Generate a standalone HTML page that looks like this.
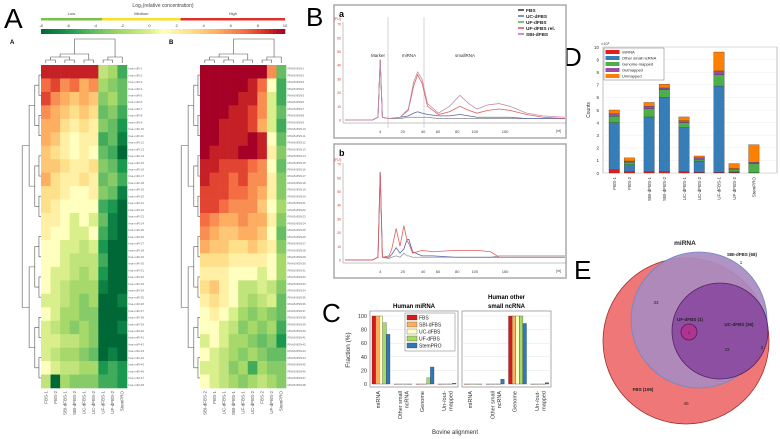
<!DOCTYPE html>
<html><head><meta charset="utf-8"><style>
body{margin:0;background:#fff}
svg{display:block;font-family:"Liberation Sans",sans-serif}
</style></head><body>
<svg id="fig" width="780" height="439" viewBox="0 0 780 439" xmlns="http://www.w3.org/2000/svg">
<rect width="780" height="439" fill="#fff"/>
<text x="4" y="28" font-size="28">A</text>
<text x="306" y="26" font-size="26">B</text>
<text x="322" y="322" font-size="26">C</text>
<text x="563" y="66" font-size="26">D</text>
<text x="574" y="279" font-size="26">E</text>
</svg>
<script>
// ---------- DATA ----------
const heatColsA=["FBS-1","FBS-2","SBI-dFBS-1","SBI-dFBS-2","UC-dFBS-1","UC-dFBS-2","UF-dFBS-1","UF-dFBS-2","StemPRO"];
const heatColsB=["SBI-dFBS-2","FBS-1","UC-dFBS-1","SBI-dFBS-1","UF-dFBS-1","UC-dFBS-2","FBS-2","UF-dFBS-2","StemPRO"];
const heatA=[
[9,9,9,9,9,9,-1,-2,-5],[7,8,6,7,5,6,-2,-3,-4],[8,6,5,4,5,4,-3,-2,-4],[6,5,4,3,4,3,-4,-3,-5],
[5,5,3,2,3,2,-3,-4,-6],[5,4,2,1,2,2,-5,-4,-7],[4,3,2,1,2,1,-4,-5,-8],[4,4,3,2,2,3,-3,-4,-6],
[5,3,2,2,3,2,-4,-3,-5],[3,3,2,1,1,2,-3,-4,-7],[3,2,1,1,1,1,-5,-6,-8],[2,2,1,0,1,0,-4,-7,-8],
[2,1,1,0,0,1,-5,-7,-8],[1,1,0,0,-1,0,-6,-8,-8],[1,1,0,-1,-1,-1,-5,-8,-8],[1,0,0,-1,-2,-1,-6,-8,-8],
[1,0,-1,-2,-2,-2,-7,-8,-8],[0,0,-1,-2,-3,-2,-8,-8,-7],[1,0,-2,-2,-3,-3,-8,-8,-8],[0,-1,-2,-3,-2,-3,-8,-8,-7],
[0,0,-1,-1,-2,-3,-8,-8,-8],[0,-1,-2,-2,-3,-4,-8,-7,-8],[1,0,-1,-1,-2,-2,-6,-5,-6],[-1,-8,-2,-3,-3,-3,-5,-5,-6]];
const heatB=[
[10,10,10,10,10,10,10,6,-4],[10,10,10,10,10,9,7,1,-5],[10,10,10,10,9,9,6,0,-5],[10,10,10,9,9,8,6,0,-4],
[10,10,9,9,9,8,5,0,-5],[10,10,9,9,9,10,9,1,-4],[10,9,9,9,10,10,9,2,-3],[9,9,8,8,8,7,6,1,-4],
[9,8,8,7,8,6,6,2,-3],[8,8,8,7,7,6,5,2,-3],[8,8,7,6,6,6,4,1,-2],[7,6,5,5,6,5,5,2,-3],
[6,5,4,4,5,5,4,1,-4],[5,4,4,3,3,4,3,2,-3],[3,3,3,2,2,2,2,1,-2],[2,2,2,1,1,1,0,1,-2],
[3,4,2,1,-1,-1,0,-1,-3],[2,3,2,1,-1,-2,-1,0,-4],[1,2,1,0,-2,-3,-2,-3,-4],[1,1,0,-1,-3,-2,-3,-2,-5],
[0,1,0,-2,-2,-3,-4,-3,-6],[1,0,-1,-2,-3,-2,-3,-4,-4],[0,0,-1,-3,-2,-5,-2,-3,-3],[1,0,-1,-2,-3,-2,-1,-2,-3]];
const colorTicks=[-8,-6,-4,-2,0,2,4,6,8,10];

// Bioanalyzer traces (time s, FU)
const timeA=[20,25,26,26.4,26.8,28,30,31.5,32.5,33.2,34,35,37,39,40.9,42.5,44,46,48,50,53,56,60];
const traceA_SBI=[0,0,2,44,2,1,2,8,28,35,30,12,5,10,18,12,8,11,12,10,5,3,2];
const traceA_UFrel=[0,0,2,44,2,1,2,7,25,33,27,10,4,6,10,7,5,7,8,7,4,2,1];
const traceA_UC=[0,0,2,44,2,1,2,3,5,6,5,4,3,3,4,3,2,2,2,2,1,1,1];
const traceA_FBS=[0,0,2,44,2,1,1,2,2,2,2,2,1,1,1,1,1,1,1,1,1,1,1];
const timeB=[20,25,26,26.4,26.8,28,28.5,29.3,30,30.7,31.3,31.6,32.3,34,36,40,44,46.5,48,52,60];
const traceB_UFrel=[0,0,2,64,2,3,8,23,10,25,14,12,5,7,6,7,7,6,2,2,2];
const traceB_UC=[0,0,2,64,2,2,4,9,5,8,15,15,6,3,3,2,2,2,2,2,2];
const traceB_FBS=[0,0,2,64,2,1,2,3,2,5,3,3,2,2,2,2,2,2,3,3,3];
const ladderLabels=["4","20","40","60","80","100","150"];
const ladderTimes=[26.4,30.5,34.2,36.9,40.4,43.6,49.1];
const fuTicks=[0,10,20,30,40,50,60,70];

// Panel C
const cCats=["miRNA","Other small ncRNA","Genome","Un-/out-mapped"];
const cSeries=["FBS","SBI-dFBS","UC-dFBS","UF-dFBS","StemPRO"];
const cMiRNA=[[100,100,100,90,73],[0,0,0,0,0],[0,0,0,9,25],[0,0,0,0,1]];
const cOther=[[0,0,0,0,0],[0,0,0,0,7],[100,100,100,100,89],[0,0,0,0,2]];
const cTicks=[0,20,40,60,80,100];

// Panel D (x10^6 counts)
const dSamples=["FBS-1","FBS-2","SBI-dFBS-1","SBI-dFBS-2","UC-dFBS-1","UC-dFBS-2","UF-dFBS-1","UF-dFBS-2","StemPRO"];
const dGroupIdx=[0,0,1,1,2,2,3,3,4];
const dMiRNA=[0.25,0.1,0.1,0.1,0.1,0.05,0.05,0.05,0];
const dOther=[3.75,0.55,4.35,5.9,3.5,0.9,6.85,0.05,0.02];
const dGenome=[0.5,0.2,0.65,0.6,0.4,0.15,0.9,0.2,0.73];
const dOut=[0.2,0.1,0.2,0.15,0.15,0.1,0.3,0.05,0.1];
const dUnmapped=[0.3,0.25,0.3,0.3,0.3,0.15,1.5,0.4,1.4];
const dTicks=[0,1,2,3,4,5,6,7,8,9,10];

// ---------- HELPERS ----------
const NS="http://www.w3.org/2000/svg";
const svg=document.getElementById('fig');
function mk(tag,attrs,parent,txt){const e=document.createElementNS(NS,tag);for(const k in attrs)e.setAttribute(k,attrs[k]);if(txt!==undefined)e.textContent=txt;(parent||svg).appendChild(e);return e;}
function grp(name){const g=mk('g',{});return g;}
const stops=[[-8,[0,104,55]],[-6,[26,152,80]],[-4,[102,189,99]],[-2,[166,217,106]],[0,[217,239,139]],[1,[255,255,191]],[3,[254,224,139]],[5,[253,174,97]],[7,[244,109,67]],[8.5,[215,48,39]],[10,[165,0,38]]];
function heatColor(v){v=Math.max(-8,Math.min(10,v));for(let i=1;i<stops.length;i++){if(v<=stops[i][0]){const a=stops[i-1],b=stops[i];const t=(v-a[0])/(b[0]-a[0]);const c=a[1].map((x,j)=>Math.round(x+(b[1][j]-x)*t));return `rgb(${c})`;}}return 'rgb(165,0,38)';}

// ---------- COLOR BAR ----------
const cb=grp('color-bar');
let t=mk('text',{x:163,y:7,'font-size':5,'text-anchor':'middle',fill:'#444'},cb,'Log\u2082(relative concentration)');

const cbX=v=>41+(v+8)/18*244;
[["Low",-8,-3.5,'#7cbf4a'],["Medium",-3.5,2.3,'#f7df2a'],["High",2.3,10,'#e0302a']].forEach(c=>{
  const r=mk('rect',{x:cbX(c[1]),y:18,width:cbX(c[2])-cbX(c[1]),height:2.5,fill:c[3]},cb);
  
  const tx=mk('text',{x:(cbX(c[1])+cbX(c[2]))/2,y:15,'font-size':4,'text-anchor':'middle',fill:'#444'},cb,c[0]);
  
});
for(let i=0;i<60;i++){const v=-8+18*i/60;const r=mk('rect',{x:cbX(v),y:29,width:244/60+0.3,height:5,fill:heatColor(v+0.15)},cb);
  }
colorTicks.forEach(v=>{const tx=mk('text',{x:cbX(v),y:27,'font-size':4,'text-anchor':'middle',fill:'#444'},cb,v);
  });

// ---------- HEATMAPS ----------
function dendroLeft(g,x0,y0,rowH,n,xLeft){
  // balanced brackets
  let nodes=[];for(let i=0;i<n;i++)nodes.push({y:y0+(i+0.5)*rowH,x:x0});
  let level=0;
  while(nodes.length>1){level++;const nx=x0-Math.pow(level,1.6)*(x0-xLeft)/Math.pow(6,1.6);const nn=[];
    for(let i=0;i<nodes.length;i+=2){if(i+1<nodes.length){const a=nodes[i],b=nodes[i+1];
      const p=mk('path',{d:`M${a.x},${a.y}H${nx}V${b.y}H${b.x}`,fill:'none',stroke:'#555','stroke-width':0.6},g);
      nn.push({x:nx,y:(a.y+b.y)/2});}else nn.push(nodes[i]);}
    nodes=nn;}
}
function dendroTop(g,x0,colW,yb,groups){
  const tops=[];groups.forEach(gr=>{let nodes=gr.map(i=>({x:x0+(i+0.5)*colW,y:yb}));let lv=0;
    while(nodes.length>1){lv++;const ny=yb-lv*3;const nn=[];for(let i=0;i<nodes.length;i+=2){if(i+1<nodes.length){const a=nodes[i],b=nodes[i+1];
      const p=mk('path',{d:`M${a.x},${a.y}V${ny}H${b.x}V${b.y}`,fill:'none',stroke:'#555','stroke-width':0.6},g);
      nn.push({x:(a.x+b.x)/2,y:ny});}else nn.push(nodes[i]);}nodes=nn;}tops.push(nodes[0]);});
  const a=tops[0],b=tops[1];const p=mk('path',{d:`M${a.x},${a.y}V${yb-24}H${b.x}V${b.y}`,fill:'none',stroke:'#555','stroke-width':0.6},g);
  
}
function heatmap(name,data,cols,x0,letter,lblPrefix){
  const g=grp(name);const y0=65,y1=388,w=86;const cw=w/9,rh=(y1-y0)/data.length;
  const l=mk('text',{x:x0-31,y:44,'font-size':6,'font-weight':'bold'},g,letter);
  data.forEach((row,r)=>{row.forEach((v,c)=>{const e=mk('rect',{x:x0+c*cw,y:y0+r*rh,width:cw+0.3,height:rh+0.3,fill:heatColor(v)},g);
    });
    for(let k=0;k<2;k++){const tx=mk('text',{x:x0+w+1.5,y:y0+r*rh+rh*(k+0.5)/2+1.2,'font-size':3,fill:'#666'},g,lblPrefix+(r*2+k+1));
      }
  });
  cols.forEach((c,i)=>{const tx=mk('text',{x:0,y:0,'font-size':4.5,'text-anchor':'end',fill:'#555',transform:`translate(${x0+(i+0.5)*cw+1.5},${y1+3}) rotate(-90)`},g,c);
    });
  dendroLeft(g,x0,y0,(y1-y0)/16,16,x0-36);
  dendroTop(g,x0,cw,y0-2,[[0,1,2,3,4,5],[6,7,8]]);
}
heatmap('heatmap-a',heatA,heatColsA,41,'A','hsa-miR-');
heatmap('heatmap-b',heatB,heatColsB,200,'B','RNA5-8SN');

// ---------- PANEL B ----------
function trace(g,box,baseY,label){
  const r=mk('rect',{x:box[0],y:box[1],width:box[2],height:box[3],fill:'#fff',stroke:'#aaa','stroke-width':1.5},g);
  const lt=mk('text',{x:box[0]+5,y:box[1]+12,'font-size':9,'font-weight':'bold'},g,label);
  return r;
}
const tX=t=>345+(t-20)*5.5;
function drawTrace(g,baseY,times,vals,color,name){
  const yS=v=>baseY-v*1.37;
  const p=mk('polyline',{points:times.map((t,i)=>tX(t)+','+yS(vals[i])).join(' '),fill:'none',stroke:color,'stroke-width':0.8},g);
  
}
function traceAxes(g,baseY,topY){
  const ax=mk('path',{d:`M343,${topY}V${baseY+3}H566`,fill:'none',stroke:'#888','stroke-width':0.5},g);
  fuTicks.forEach(v=>{const tx=mk('text',{x:341,y:baseY-v*1.37+1.5,'font-size':3.5,'text-anchor':'end',fill:'#d33'},g,v);});
  const u=mk('text',{x:334,y:topY-2,'font-size':3.5,fill:'#d33'},g,'[FU]');
  ladderTimes.forEach((tt,i)=>{const tx=mk('text',{x:tX(tt),y:baseY+13,'font-size':4,'text-anchor':'middle',fill:'#444'},g,ladderLabels[i]);});
  const s=mk('text',{x:561,y:baseY+12,'font-size':3.5,'text-anchor':'end',fill:'#444'},g,'[nt]');
}
const gBa=grp('bioanalyzer-a');trace(gBa,[334,5,232,133],120,'a');traceAxes(gBa,120,22);
[[388,'marker-divider'],[424,'mirna-divider']].forEach(d=>{const l=mk('line',{x1:d[0],x2:d[0],y1:17,y2:128,stroke:'#bbb','stroke-width':0.6},gBa);});
[["Marker",378],["miRNA",409],["smallRNA",465]].forEach(d=>{const tx=mk('text',{x:d[1],y:57,'font-size':4.5,'text-anchor':'middle',fill:'#333'},gBa,d[0]);});
drawTrace(gBa,120,timeA,traceA_FBS,'#888','trace-fbs');
drawTrace(gBa,120,timeA,traceA_UC,'#5566aa','trace-uc-dfbs');
drawTrace(gBa,120,timeA,traceA_UFrel,'#e06060','trace-uf-dfbs-rel');
drawTrace(gBa,120,timeA,traceA_SBI,'#c090b0','trace-sbi-dfbs');
const leg=grp('trace-legend');
[["FBS",'#111'],["UC-dFBS",'#3b5a9a'],["UF-dFBS",'#3a9a4a'],["UF-dFBS rel.",'#e03030'],["SBI-dFBS",'#b050b0']].forEach((d,i)=>{
  const l=mk('line',{x1:518,x2:524,y1:10+i*6,y2:10+i*6,stroke:d[1],'stroke-width':1.3},leg);
  const tx=mk('text',{x:526,y:11.8+i*6,'font-size':4.8,'font-weight':'bold',fill:'#222'},leg,d[0]);});
const gBb=grp('bioanalyzer-b');trace(gBb,[334,144,232,134],260,'b');traceAxes(gBb,260,163);
drawTrace(gBb,260,timeB,traceB_FBS,'#999','trace-fbs');
drawTrace(gBb,260,timeB,traceB_UC,'#5566aa','trace-uc-dfbs');
drawTrace(gBb,260,timeB,traceB_UFrel,'#e06060','trace-uf-dfbs-rel');

// ---------- PANEL C ----------
const cColors=['#d7191c','#fdae61','#ffffbf','#a6d96a','#2c7bb6'];
function cPlot(name,x0,x1,vals,title1,title2,showY){
  const g=grp(name);const y0=311,y1=387;const yS=v=>y1-3-v/100*(y1-y0-8);
  const fr=mk('rect',{x:x0,y:y0,width:x1-x0,height:y1-y0,fill:'#fff',stroke:'#888','stroke-width':0.7},g);
  cTicks.forEach(v=>{const l=mk('line',{x1:x0,x2:x1,y1:yS(v),y2:yS(v),stroke:'#e4e4e4','stroke-width':0.5},g);
    if(showY){const tx=mk('text',{x:x0-3,y:yS(v)+2,'font-size':5.5,'text-anchor':'end',fill:'#333'},g,v);}});
  const gw=(x1-x0)/4,bw=3.6;
  cCats.forEach((c,ci)=>{vals[ci].forEach((v,si)=>{const bx=x0+ci*gw+2+si*bw;
      const b=mk('rect',{x:bx,y:yS(v),width:bw,height:Math.max(0.3,yS(0)-yS(v)),fill:cColors[si],stroke:'#333','stroke-width':0.3},g);
      });
    const lines=c==="Other small ncRNA"?["Other small","ncRNA"]:c==="Un-/out-mapped"?["Un-/out-","mapped"]:[c];
    lines.forEach((ln,k)=>{const tx=mk('text',{x:0,y:0,'font-size':5.5,'text-anchor':'end',fill:'#333',transform:`translate(${x0+ci*gw+gw/2-1+k*6.5},${y1+4}) rotate(-90)`},g,ln);
      });
  });
  const t1=mk('text',{x:(x0+x1)/2,y:title2?299:308,'font-size':6,'font-weight':'bold','text-anchor':'middle'},g,title1);
  if(title2){const t2=mk('text',{x:(x0+x1)/2,y:308,'font-size':6,'font-weight':'bold','text-anchor':'middle'},g,title2);}
  return g;
}
const gc1=cPlot('chart-human-mirna',370,458,cMiRNA,'Human miRNA',null,true);
cPlot('chart-human-other-ncrna',462,551,cOther,'Human other','small ncRNA',false);
const cl=grp('legend-c');const lr=mk('rect',{x:405,y:313,width:50,height:38,fill:'#fff',stroke:'#777','stroke-width':0.5},cl);
cSeries.forEach((s,i)=>{const r=mk('rect',{x:407,y:315+i*7,width:10,height:5,fill:cColors[i],stroke:'#333','stroke-width':0.3},cl);
  const tx=mk('text',{x:419,y:319.5+i*7,'font-size':5,fill:'#222'},cl,s);});
const cy=mk('text',{x:0,y:0,'font-size':6.5,'text-anchor':'middle',fill:'#333',transform:'translate(350,350) rotate(-90)'},svg,'Fraction (%)');

const cx=mk('text',{x:455,y:434,'font-size':6,'text-anchor':'middle',fill:'#333'},svg,'Bovine alignment');


// ---------- PANEL D ----------
const gD=grp('chart-counts');const dx0=603,dx1=777,dy0=47,dy1=173;const dY=v=>dy1-v/10*(dy1-dy0);
const dFrame=mk('rect',{x:dx0,y:dy0,width:dx1-dx0,height:dy1-dy0,fill:'#fff',stroke:'#999','stroke-width':0.6},gD);
dTicks.forEach(v=>{const l=mk('line',{x1:dx0,x2:dx1,y1:dY(v),y2:dY(v),stroke:'#eee','stroke-width':0.5},gD);
  const tx=mk('text',{x:dx0-4,y:dY(v)+1.8,'font-size':4.5,'text-anchor':'end',fill:'#333'},gD,v);});
const dExp=mk('text',{x:dx0-2,y:dy0-2,'font-size':4,fill:'#333'},gD,'\u00d710\u2076');
const dTitle=mk('text',{x:0,y:0,'font-size':5,'text-anchor':'middle',fill:'#333',transform:`translate(590,110) rotate(-90)`},gD,'Counts');
const dColors=['#e41a1c','#377eb8','#4daf4a','#984ea3','#ff7f00'];const dNames=['miRNA','Other small ncRNA','Genome-mapped','Outmapped','Unmapped'];
const dLayers=[dMiRNA,dOther,dGenome,dOut,dUnmapped];
dSamples.forEach((s,i)=>{const bx=dx0+6+i*15.2+dGroupIdx[i]*4.5;let acc=0;
  dLayers.forEach((L,k)=>{const v=L[i];const r=mk('rect',{x:bx,y:dY(acc+v),width:10.5,height:dY(acc)-dY(acc+v),fill:dColors[k],stroke:'#333','stroke-width':0.3},gD);
    acc+=v;});
  const tx=mk('text',{x:0,y:0,'font-size':4.5,'text-anchor':'end',fill:'#333',transform:`translate(${bx+7},${dy1+4}) rotate(-90)`},gD,s);});
const dl=grp('legend-d');const dlr=mk('rect',{x:604,y:48,width:60,height:32,fill:'#fff',stroke:'#777','stroke-width':0.5},dl);
dNames.forEach((n,i)=>{const r=mk('rect',{x:605.5,y:50+i*6,width:14,height:4,fill:dColors[i]},dl);
  const tx=mk('text',{x:622,y:53.5+i*6,'font-size':4,fill:'#222'},dl,n);});

// ---------- PANEL E ----------
const gE=grp('venn-mirna');
[[686,341,83,'#ee6b6b','#a03030','circle-fbs'],[699,320,68,'#a98bc0','#6a88c8','circle-sbi-dfbs'],[720,331,48,'#8a4a9e','#552266','circle-uc-dfbs'],[689,332,8,'#b0338f','#5a1a50','circle-uf-dfbs']].forEach(c=>{
  const e=mk('circle',{cx:c[0],cy:c[1],r:c[2],fill:c[3],stroke:c[4],'stroke-width':0.8,'fill-opacity':0.92},gE);});
[["miRNA",685,245,6.5,'bold'],["SBI-dFBS (68)",742,256,4.5,'bold'],["1",741,264,4.5,''],["33",656,304,4.5,''],["UF-dFBS (1)",690,321,4.5,'bold'],
 ["UC-dFBS (36)",739,326,4.5,'bold'],["1",689,334,4,''],["33",727,351,4.5,''],["2",762,349,4.5,''],["FBS (109)",643,391,4.5,'bold'],["40",686,405,4.5,'']].forEach(d=>{
  const tx=mk('text',{x:d[1],y:d[2],'font-size':d[3],'font-weight':d[4]||'normal','text-anchor':'middle',fill:'#222'},gE,d[0]);});
</script>
</body></html>
